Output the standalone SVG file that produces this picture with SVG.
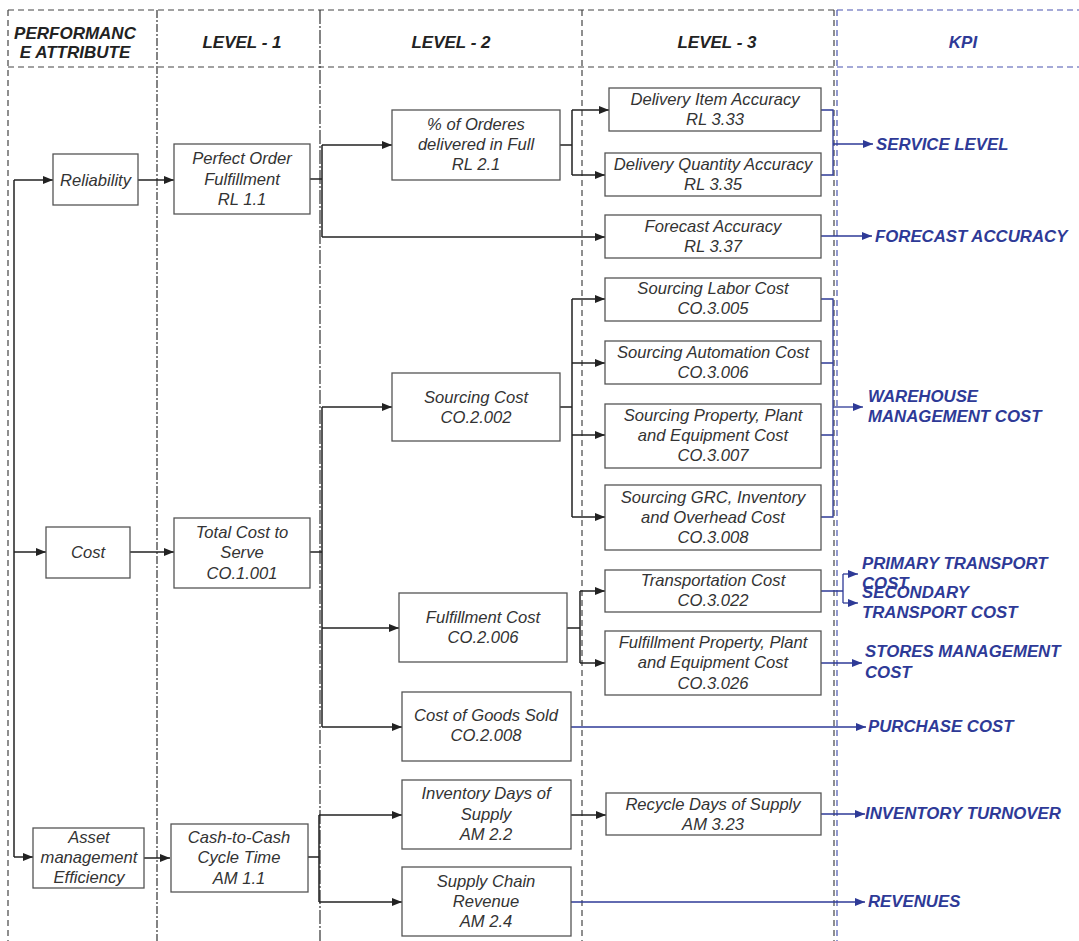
<svg xmlns="http://www.w3.org/2000/svg" width="1079" height="941" viewBox="0 0 1079 941">
<defs>
<marker id="ak" markerUnits="userSpaceOnUse" markerWidth="11" markerHeight="9" refX="10" refY="4" orient="auto"><path d="M0,0 L10,4 L0,8 z" fill="#222"/></marker>
<marker id="ab" markerUnits="userSpaceOnUse" markerWidth="11" markerHeight="9" refX="10" refY="4" orient="auto"><path d="M0,0 L10,4 L0,8 z" fill="#2e3a97"/></marker>
</defs>
<style>
.g{stroke:#444;stroke-width:1.2;fill:none;stroke-dasharray:6 4}
.gb{stroke:#4a55b0;stroke-width:1.2;fill:none;stroke-dasharray:6 4}
.b rect{fill:#fff;stroke:#555;stroke-width:1.3}
.b text{font-family:"Liberation Sans",Arial,sans-serif;font-style:italic;font-size:16.6px;fill:#333;text-anchor:middle}
.h{font-family:"Liberation Sans",Arial,sans-serif;font-style:italic;font-weight:bold;font-size:17px;fill:#222;text-anchor:middle}
.k{font-family:"Liberation Sans",Arial,sans-serif;font-style:italic;font-weight:bold;font-size:16.8px;fill:#2e3a97}
.ck path{stroke:#222;stroke-width:1.5;fill:none}
.ck path.a{marker-end:url(#ak)}
.cb path{stroke:#2e3a97;stroke-width:1.3;fill:none}
.cb path.a{marker-end:url(#ab)}
</style>
<rect width="1079" height="941" fill="#fff"/>
<g id="grid">
<path class="g" d="M8,10 H835 M8,67 H835 M8,10 V941 M582,10 V941 M834,10 V941"/>
<path d="M157,10 V941" stroke="#333" stroke-width="1.2" stroke-dasharray="8 2 2 2" fill="none"/>
<path d="M320,10 V941" stroke="#333" stroke-width="1.2" stroke-dasharray="14 2 2 2" fill="none"/>
<path class="gb" d="M837,10 H1079 M837,67 H1079 M837,10 V941"/>
</g>
<g id="headers">
<text class="h" x="75" y="39">PERFORMANC</text>
<text class="h" x="75" y="58">E ATTRIBUTE</text>
<text class="h" x="242" y="48">LEVEL - 1</text>
<text class="h" x="451" y="48">LEVEL - 2</text>
<text class="h" x="717" y="48">LEVEL - 3</text>
<text class="h" x="963" y="48" style="fill:#2e3a97">KPI</text>
</g>
<g id="connectors">
<g class="ck">
<path d="M14,180 V857"/>
<path class="a" d="M14,180 H53"/>
<path class="a" d="M14,552 H46"/>
<path class="a" d="M14,857 H33"/>
<path class="a" d="M138,180 H174"/>
<path class="a" d="M130,552 H174"/>
<path class="a" d="M143,858 H170"/>
<path d="M310,179 H322 M322,145 V237"/>
<path class="a" d="M322,145 H392"/>
<path class="a" d="M322,237 H605"/>
<path d="M560,145 H572 M572,110 V175"/>
<path class="a" d="M572,110 H609"/>
<path class="a" d="M572,175 H605"/>
<path d="M310,552 H322 M322,407 V727"/>
<path class="a" d="M322,407 H392"/>
<path class="a" d="M322,628 H399"/>
<path class="a" d="M322,727 H402"/>
<path d="M560,407 H572 M572,299 V517"/>
<path class="a" d="M572,299 H605"/>
<path class="a" d="M572,363 H605"/>
<path class="a" d="M572,435 H605"/>
<path class="a" d="M572,517 H605"/>
<path d="M567,628 H580 M580,591 V663"/>
<path class="a" d="M580,591 H605"/>
<path class="a" d="M580,663 H605"/>
<path d="M307,857 H319 M319,815 V902"/>
<path class="a" d="M319,815 H402"/>
<path class="a" d="M319,902 H402"/>
<path class="a" d="M571,815 H606"/>
</g>
<g class="cb">
<path d="M821,110 H833 V175 H821"/>
<path class="a" d="M833,144 H873"/>
<path class="a" d="M821,236 H872"/>
<path d="M821,299 H833 V517 H821 M821,363 H833 M821,435 H833"/>
<path class="a" d="M833,407 H863"/>
<path d="M821,591 H843 M843,574 V603"/>
<path class="a" d="M843,574 H858"/>
<path class="a" d="M843,603 H858"/>
<path class="a" d="M821,663 H862"/>
<path class="a" d="M571,727 H866"/>
<path class="a" d="M821,814 H865"/>
<path class="a" d="M571,902 H865"/>
</g>
</g>
<g id="n-reliability" class="b"><rect x="53" y="154" width="85" height="51"/><text x="95.5" y="186">Reliability</text></g>
<g id="n-cost" class="b"><rect x="46" y="527" width="84" height="51"/><text x="88" y="558">Cost</text></g>
<g id="n-asset" class="b"><rect x="33" y="828" width="111" height="60"/><text x="89" y="843">Asset</text><text x="89" y="863">management</text><text x="89" y="883">Efficiency</text></g>
<g id="n-pof" class="b"><rect x="174" y="144" width="136" height="70"/><text x="242" y="164">Perfect Order</text><text x="242" y="185">Fulfillment</text><text x="242" y="205">RL 1.1</text></g>
<g id="n-tcs" class="b"><rect x="174" y="518" width="136" height="70"/><text x="242" y="538">Total Cost to</text><text x="242" y="558">Serve</text><text x="242" y="579">CO.1.001</text></g>
<g id="n-c2c" class="b"><rect x="171" y="824" width="137" height="68"/><text x="239" y="843">Cash-to-Cash</text><text x="239" y="863">Cycle Time</text><text x="239" y="884">AM 1.1</text></g>
<g id="n-orders" class="b"><rect x="392" y="110" width="168" height="70"/><text x="476" y="130">% of Orderes</text><text x="476" y="150">delivered in Full</text><text x="476" y="170">RL 2.1</text></g>
<g id="n-sourcing" class="b"><rect x="392" y="373" width="168" height="68"/><text x="476" y="403">Sourcing Cost</text><text x="476" y="423">CO.2.002</text></g>
<g id="n-fulfill" class="b"><rect x="399" y="593" width="168" height="69"/><text x="483" y="623">Fulfillment Cost</text><text x="483" y="643">CO.2.006</text></g>
<g id="n-cogs" class="b"><rect x="402" y="692" width="169" height="69"/><text x="486" y="721">Cost of Goods Sold</text><text x="486" y="741">CO.2.008</text></g>
<g id="n-ids" class="b"><rect x="402" y="780" width="169" height="69"/><text x="486" y="799">Inventory Days of</text><text x="486" y="820">Supply</text><text x="486" y="840">AM 2.2</text></g>
<g id="n-scr" class="b"><rect x="402" y="867" width="169" height="69"/><text x="486" y="887">Supply Chain</text><text x="486" y="907">Revenue</text><text x="486" y="927">AM 2.4</text></g>
<g id="n-dia" class="b"><rect x="609" y="88" width="212" height="43"/><text x="715" y="105">Delivery Item Accuracy</text><text x="715" y="125">RL 3.33</text></g>
<g id="n-dqa" class="b"><rect x="605" y="153" width="216" height="43"/><text x="713" y="170">Delivery Quantity Accuracy</text><text x="713" y="190">RL 3.35</text></g>
<g id="n-fa" class="b"><rect x="605" y="215" width="216" height="43"/><text x="713" y="232">Forecast Accuracy</text><text x="713" y="252">RL 3.37</text></g>
<g id="n-slc" class="b"><rect x="605" y="278" width="216" height="43"/><text x="713" y="294">Sourcing Labor Cost</text><text x="713" y="314">CO.3.005</text></g>
<g id="n-sac" class="b"><rect x="605" y="341" width="216" height="43"/><text x="713" y="358">Sourcing Automation  Cost</text><text x="713" y="378">CO.3.006</text></g>
<g id="n-sppe" class="b"><rect x="605" y="404" width="216" height="64"/><text x="713" y="421">Sourcing Property, Plant</text><text x="713" y="441">and Equipment Cost</text><text x="713" y="461">CO.3.007</text></g>
<g id="n-sgrc" class="b"><rect x="605" y="485" width="216" height="65"/><text x="713" y="503">Sourcing GRC, Inventory</text><text x="713" y="523">and Overhead Cost</text><text x="713" y="543">CO.3.008</text></g>
<g id="n-trans" class="b"><rect x="605" y="570" width="216" height="42"/><text x="713" y="586">Transportation  Cost</text><text x="713" y="606">CO.3.022</text></g>
<g id="n-fppe" class="b"><rect x="605" y="631" width="216" height="64"/><text x="713" y="648">Fulfillment Property, Plant</text><text x="713" y="668">and Equipment Cost</text><text x="713" y="689">CO.3.026</text></g>
<g id="n-rds" class="b"><rect x="606" y="793" width="215" height="42"/><text x="713" y="810">Recycle Days of Supply</text><text x="713" y="830">AM 3.23</text></g>
<g id="kpis">
<text class="k" x="876" y="150">SERVICE LEVEL</text>
<text class="k" x="875" y="242">FORECAST ACCURACY</text>
<text class="k" x="868" y="402">WAREHOUSE</text>
<text class="k" x="868" y="422">MANAGEMENT COST</text>
<text class="k" x="862" y="569">PRIMARY TRANSPORT</text>
<text class="k" x="862" y="589">COST</text>
<text class="k" x="862" y="598">SECONDARY</text>
<text class="k" x="862" y="618">TRANSPORT COST</text>
<text class="k" x="865" y="657">STORES MANAGEMENT</text>
<text class="k" x="865" y="678">COST</text>
<text class="k" x="868" y="732">PURCHASE COST</text>
<text class="k" x="865" y="819">INVENTORY TURNOVER</text>
<text class="k" x="868" y="907">REVENUES</text>
</g>
</svg>
